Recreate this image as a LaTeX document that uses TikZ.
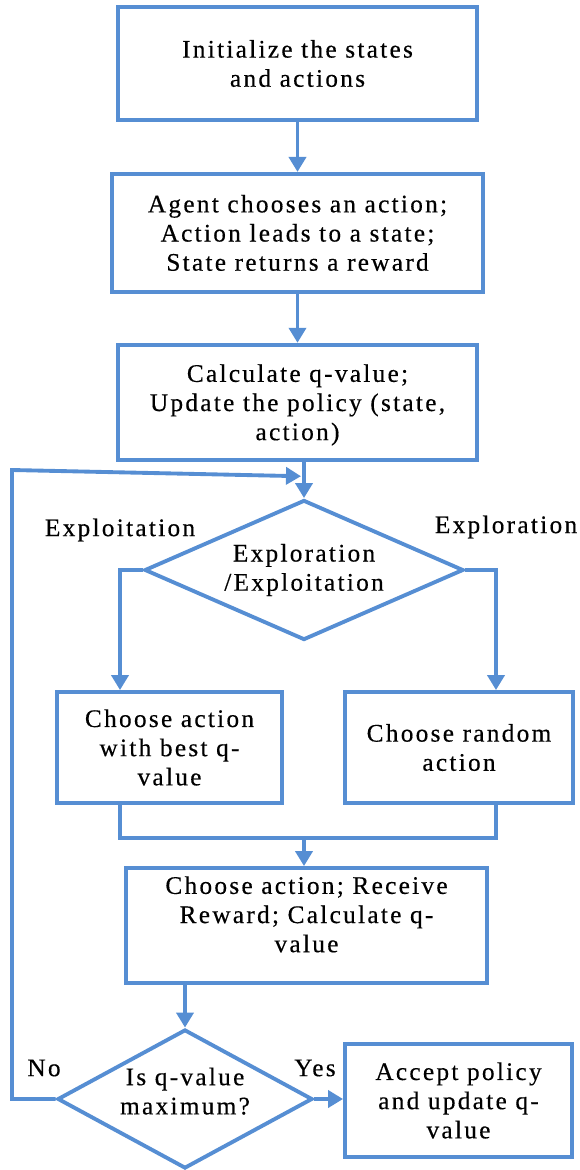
\documentclass[tikz,border=0pt]{standalone}
\usepackage{fontspec}
\setmainfont{Liberation Serif}[LetterSpace=9, FakeBold=0.4]
\usepackage{tikz}
\usetikzlibrary{shapes.geometric, arrows.meta, positioning, calc}
\definecolor{flowblue}{RGB}{86,142,211}
\tikzset{
  stepbox/.style={rectangle, draw=flowblue, fill=white,
    align=center, inner sep=2pt, line width=2.2pt,
    font=\fontsize{14.4}{16.6}\selectfont},
  decision/.style={diamond, draw=flowblue, fill=white,
    align=center, inner sep=0pt, line width=2.2pt,
    font=\fontsize{14.4}{16.6}\selectfont},
  tag/.style={font=\fontsize{14.4}{16.6}\selectfont},
  arrow/.style={-{Triangle[width=0.34cm,length=0.3cm]}, line width=2.2pt, color=flowblue},
  line/.style={line width=2.2pt, color=flowblue}
}
\begin{document}
\begin{tikzpicture}[node distance=1cm]
  \useasboundingbox (0,0) rectangle (11.6,-23.4);
  % Nodes
  \node[stepbox, minimum width=7.18cm, minimum height=2.26cm] (init) at (5.95,-1.27) {Initialize the states\\and actions};
  \node[stepbox, below=1.0cm of init, minimum width=7.42cm, minimum height=2.36cm] (agent) {Agent chooses an action;\\Action leads to a state;\\State returns a reward};
  \node[stepbox, below=0.98cm of agent, minimum width=7.18cm, minimum height=2.3cm, text depth=-0.2cm] (calc) {Calculate q-value;\\Update the policy (state,\\action)};
  \node[decision, aspect=2.28, minimum width=6.38cm, minimum height=2.8cm] (explr) at (6.08,-11.4) {Exploration\\/Exploitation};
  \node[stepbox, minimum width=4.5cm, minimum height=2.22cm] (best) at (3.39,-14.95) {Choose action\\with best q-\\value};
  \node[stepbox, minimum width=4.56cm, minimum height=2.22cm] (rand) at (9.18,-14.95) {Choose random\\action};
  \node[stepbox, minimum width=7.22cm, minimum height=2.3cm, text depth=0.45cm] (upd) at (6.13,-18.51) {Choose action; Receive\\Reward; Calculate q-\\value};
  \node[decision, aspect=1.83, minimum width=5.1cm, minimum height=2.78cm, text depth=0.32cm] (qmax) at (3.7,-21.98) {Is q-value\\maximum?};
  \node[stepbox, minimum width=4.54cm, minimum height=2.26cm] (accept) at (9.17,-22.01) {Accept policy\\and update q-\\value};

  % Labels
  \node[tag] (exploit) at (2.4,-10.6) {Exploitation};
  \node[tag] (explore) at (10.12,-10.54) {Exploration};
  \node[tag] (no) at (0.88,-21.36) {No};
  \node[tag] (yes) at (6.3,-21.36) {Yes};

  % Helper points
  \coordinate (loop) at ($(calc.south -| explr.north)!0.4!(explr.north)$);
  \coordinate (back) at (0.24,-9.4);
  \coordinate (merge) at (6.08,-16.72);

  % Arrows
  \draw[arrow] (init) -- (agent);
  \draw[arrow] (agent) -- (calc);
  \draw[arrow] (calc.south -| explr.north) -- (explr.north);
  \draw[arrow] (explr.west) -| ($(best.north)+(-0.99,0)$);
  \draw[arrow] (explr.east) -| ($(rand.north)+(0.74,0)$);
  \draw[line] ($(best.south)+(-0.99,0)$) |- ($(rand.south)+(0.74,-0.66)$) -- ($(rand.south)+(0.74,0)$);
  \draw[arrow] (merge) -- (merge |- upd.north);
  \draw[arrow] (upd.south -| qmax.north) -- (qmax.north);
  \draw[arrow] (qmax.east) -- (qmax.east -| accept.west);
  \draw[arrow] (qmax.west) -| (back) -- ($(loop)+(-0.06,0)$);
\end{tikzpicture}
\end{document}
